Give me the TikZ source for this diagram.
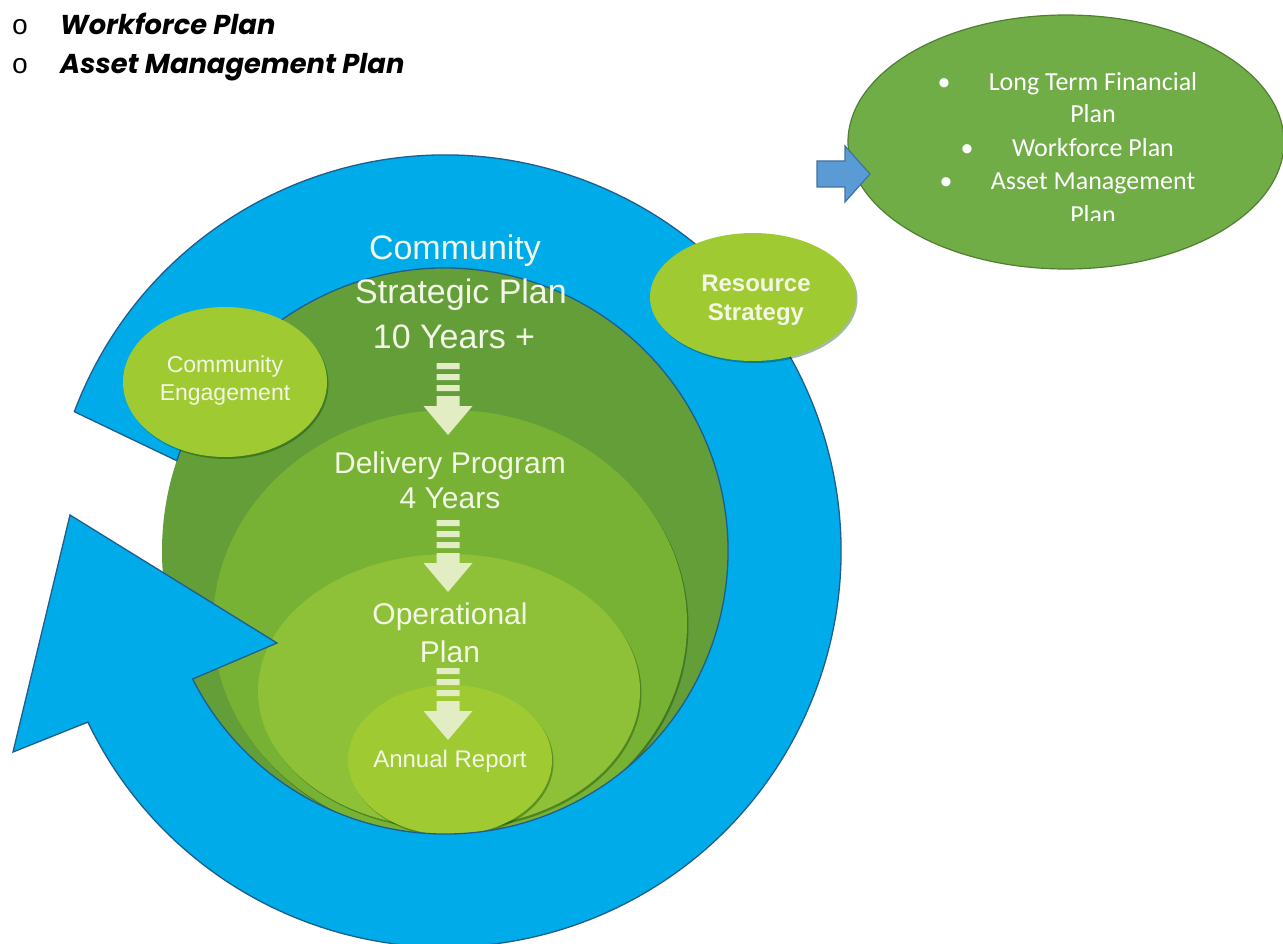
\documentclass[tikz,border=0pt]{standalone}
\usepackage{fontspec}
\setmainfont{Liberation Sans}
\newfontfamily\calibri{Carlito}
\newfontfamily\gothic{Poppins}
\newfontfamily\monofont{Liberation Mono}
\usetikzlibrary{shapes.geometric,shadows,calc}

\definecolor{ringblue}{HTML}{00ABEA}
\definecolor{ringedge}{HTML}{1F5E8C}
\definecolor{gdark}{HTML}{639E39}
\definecolor{gmid}{HTML}{78B234}
\definecolor{glight}{HTML}{8EC138}
\definecolor{goval}{HTML}{A0CA32}
\definecolor{paletext}{HTML}{F3F7E6}
\definecolor{palearrow}{HTML}{E2EDC4}
\definecolor{offgreen}{HTML}{70AD47}
\definecolor{offgreenedge}{HTML}{507E32}
\definecolor{offblue}{HTML}{5B9BD5}
\definecolor{offblueedge}{HTML}{41719C}

\tikzset{
  greenshape/.style={ellipse, inner sep=0pt, draw=none,
    drop shadow={shadow xshift=1.5pt, shadow yshift=-2pt, opacity=.35, fill=black!80!green}},
  bigtext/.style={anchor=base, text=paletext, inner sep=0pt,
    font=\fontsize{34}{40}\selectfont},
  midtext/.style={anchor=base, text=paletext, inner sep=0pt,
    font=\fontsize{30}{36}\selectfont},
  smalltext/.style={anchor=base, text=paletext, inner sep=0pt,
    font=\fontsize{23}{28}\selectfont},
  boldtext/.style={anchor=base, text=paletext, inner sep=0pt,
    font=\bfseries\fontsize{24}{29}\selectfont},
  listtext/.style={anchor=base, text=white, inner sep=0pt,
    font=\calibri\fontsize{26}{33}\selectfont},
  headtext/.style={anchor=base west, inner sep=0pt,
    font=\gothic\bfseries\itshape\fontsize{27.3}{39}\selectfont},
  pics/stepdown/.style={code={
    \fill[palearrow] (-11.5,0) rectangle (11.5,6)
                     (-11.5,11) rectangle (11.5,17)
                     (-11.5,22) rectangle (11.5,28)
                     (-11.5,33) -- (11.5,33) -- (11.5,43) -- (24.5,43)
                     -- (0,72) -- (-24.5,43) -- (-11.5,43) -- cycle;
  }}
}

\begin{document}
\begin{tikzpicture}[x=1pt,y=-1pt]
\useasboundingbox (0,0) rectangle (1283,944);

% heading list
\node[anchor=base, inner sep=0pt, font=\monofont\fontsize{28}{30}\selectfont] (b1) at (20,35) {o};
\node[headtext] (h1) at (60,35) {Workforce Plan};
\node[anchor=base, inner sep=0pt, font=\monofont\fontsize{28}{30}\selectfont] (b2) at (20,74) {o};
\node[headtext] (h2) at (60,74) {Asset Management Plan};

% nested planning layers
\coordinate (C) at (445,551);
\node[greenshape, fill=gdark, minimum width=566pt, minimum height=566pt] (csp) at (C) {};
\node[greenshape, fill=gmid, minimum width=474pt, minimum height=428pt] (dp) at (450,624) {};
\node[greenshape, fill=glight, minimum width=382pt, minimum height=274pt] (op) at (449,691) {};
\node[greenshape, fill=goval, minimum width=204pt, minimum height=150pt] (ar) at (450,760) {};

% circular blue arrow
\draw[fill=ringblue, draw=ringedge, line width=1.3pt, line join=miter]
  (C) ++(-159.4:396) arc[start angle=-159.4, end angle=154.4, radius=396]
  -- (13,752) -- (70,515) -- (277,643)
  -- ($(C)+(153.1:283)$) arc[start angle=153.1, end angle=-161.4, radius=283]
  -- cycle;

% side ovals
\node[greenshape, fill=goval, minimum width=204pt, minimum height=150pt] (ce) at (225,382) {};
\node[greenshape, fill=goval, minimum width=206pt, minimum height=128pt] (rs) at (753,297) {};

% labels
\node[bigtext] (t1) at (455,260) {Community};
\node[bigtext] (t2) at (461,304) {Strategic Plan};
\node[bigtext] (t3) at (454,348) {10 Years +};
\node[midtext] (t4) at (450,473) {Delivery Program};
\node[midtext] (t5) at (450,508) {4 Years};
\node[midtext] (t6) at (450,624) {Operational};
\node[midtext] (t7) at (450,662) {Plan};
\node[anchor=base, text=paletext, inner sep=0pt, font=\fontsize{24}{28}\selectfont] (t8) at (450,767) {Annual Report};
\node[smalltext] (t9) at (225,372) {Community};
\node[smalltext] (t10) at (225,400) {Engagement};
\node[boldtext] (t11) at (756,291) {Resource};
\node[boldtext] (t12) at (756,320) {Strategy};

% step arrows
\pic (a1) at (448,363) {stepdown};
\pic (a2) at (448,520) {stepdown};
\pic (a3) at (448,668) {stepdown};

% resourcing strategy callout
\node[ellipse, inner sep=0pt, fill=offgreen, draw=offgreenedge, line width=1.2pt,
      minimum width=436pt, minimum height=254pt] (lt) at (1066,142) {};
\begin{scope}
  \clip (840,0) rectangle (1283,221);
  \node[listtext] (l1) at (1093,91) {Long Term Financial};
  \node[listtext] (l2) at (1093,123) {Plan};
  \node[listtext] (l3) at (1093,157) {Workforce Plan};
  \node[listtext] (l4) at (1093,190) {Asset Management};
  \node[listtext] (l5) at (1093,224) {Plan};
  \node[listtext] (d1) at (944,91) {•};
  \node[listtext] (d2) at (967,157) {•};
  \node[listtext] (d3) at (946,190) {•};
\end{scope}
\draw[fill=offblue, draw=offblueedge, line width=1.2pt]
  (817,161) -- (845,161) -- (845,146) -- (870,174) -- (845,202) -- (845,187) -- (817,187) -- cycle;

\end{tikzpicture}
\end{document}
